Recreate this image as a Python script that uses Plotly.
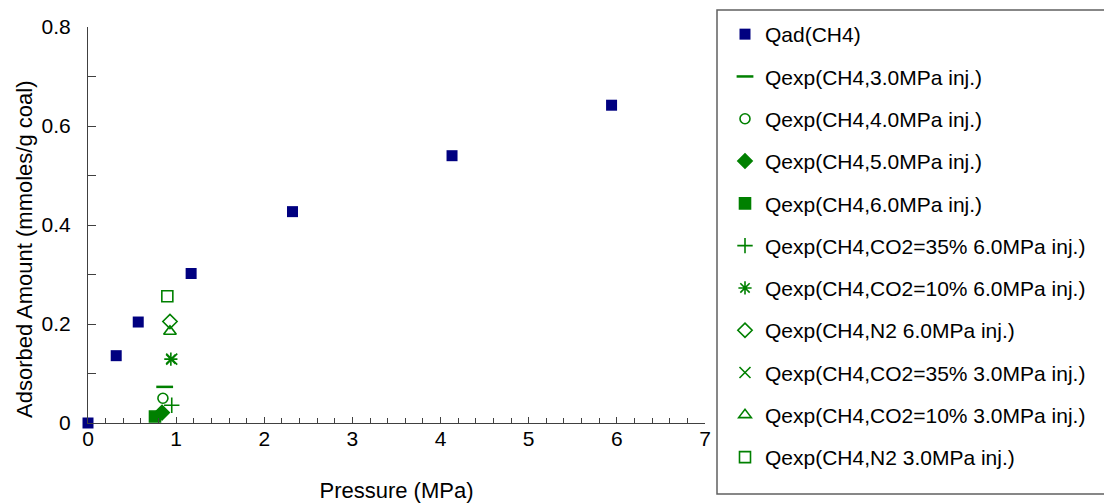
import plotly.graph_objects as go

# Data
qad_x = [0.0, 0.32, 0.57, 1.17, 2.32, 4.13, 5.94]
qad_y = [0.0, 0.136, 0.204, 0.302, 0.427, 0.540, 0.642]

series_names = [
    "Qexp(CH4,3.0MPa inj.)",
    "Qexp(CH4,4.0MPa inj.)",
    "Qexp(CH4,5.0MPa inj.)",
    "Qexp(CH4,6.0MPa inj.)",
    "Qexp(CH4,CO2=35% 6.0MPa inj.)",
    "Qexp(CH4,CO2=10% 6.0MPa inj.)",
    "Qexp(CH4,N2 6.0MPa inj.)",
    "Qexp(CH4,CO2=35% 3.0MPa inj.)",
    "Qexp(CH4,CO2=10% 3.0MPa inj.)",
    "Qexp(CH4,N2 3.0MPa inj.)",
]
series_x = [0.87, 0.85, 0.84, 0.76, 0.95, 0.94, 0.93, 0.95, 0.93, 0.90]
series_y = [0.073, 0.050, 0.021, 0.013, 0.036, 0.129, 0.205, 0.129, 0.185, 0.256]
series_symbols = ["line-ew-open", "circle-open", "diamond", "square", "cross-thin-open",
                  "asterisk-open", "diamond-open", "x-thin-open", "triangle-up-open", "square-open"]
series_sizes = [12, 10, 11, 11, 11, 11, 11, 11, 11, 11]

NAVY = "#000080"
GREEN = "#008000"
FONT = "Liberation Sans"

fig = go.Figure()
fig.add_trace(go.Scatter(
    x=qad_x, y=qad_y, mode="markers", name="Qad(CH4)", legendgroup="g0",
    marker=dict(symbol="square", size=11, color=NAVY),
    cliponaxis=False,
))
for i, (nm, xv, yv, sym, sz) in enumerate(zip(series_names, series_x, series_y, series_symbols, series_sizes)):
    fig.add_trace(go.Scatter(
        x=[xv], y=[yv], mode="markers", name=nm, legendgroup=f"g{i+1}",
        marker=dict(symbol=sym, size=sz, color=GREEN,
                    line=dict(color=GREEN, width=2.5 if sym == "line-ew-open" else 1.6)),
        cliponaxis=False,
    ))

W, H = 1104, 503
L, R, T, B = 88, 399, 27, 80
PW, PH = W - L - R, H - T - B

fig.update_layout(
    width=W, height=H,
    margin=dict(l=L, r=R, t=T, b=B),
    paper_bgcolor="white", plot_bgcolor="white",
    font=dict(family=FONT, size=21, color="black"),
    showlegend=True,
    legend=dict(
        x=(725 - L) / PW, y=1 + (T - 14) / PH,
        xanchor="left", yanchor="top",
        font=dict(family=FONT, size=21, color="black"),
        tracegroupgap=12, traceorder="grouped",
        bgcolor="rgba(0,0,0,0)", borderwidth=0,
        itemwidth=30, maxheight=1.0,
    ),
    xaxis=dict(
        range=[0, 7], tickmode="linear", tick0=0, dtick=1,
        showgrid=False, zeroline=False, automargin=False,
        showline=True, linecolor="#404040", linewidth=1,
        ticks="inside", ticklen=6, tickcolor="#404040",
        minor=dict(dtick=0.2, ticks="inside", ticklen=5, tickcolor="#404040", showgrid=False),
        tickfont=dict(family=FONT, size=21),
        ticklabelstandoff=-3,
        title=dict(text="Pressure (MPa)", font=dict(family=FONT, size=22), standoff=33),
    ),
    yaxis=dict(
        range=[0, 0.8], tickmode="array", tickvals=[0, 0.2, 0.4, 0.6, 0.8],
        ticktext=["0", "0.2", "0.4", "0.6", "0.8"],
        showgrid=False, zeroline=False, automargin=False,
        showline=True, linecolor="#404040", linewidth=1,
        ticks="inside", ticklen=8, tickcolor="#404040",
        minor=dict(dtick=0.1, ticks="inside", ticklen=8, tickcolor="#404040", showgrid=False),
        tickfont=dict(family=FONT, size=21),
        ticklabelstandoff=12,
    ),
)

# y-axis title (offset downward as in the original)
fig.add_annotation(text="Adsorbed Amount (mmoles/g coal)", textangle=-90,
                   xref="paper", yref="paper",
                   x=(25 - L) / PW, y=1 - (249 - T) / PH,
                   xanchor="center", yanchor="middle", showarrow=False,
                   font=dict(family=FONT, size=22, color="black"))

# legend frame
fig.add_shape(type="rect", xref="paper", yref="paper",
              x0=(717 - L) / PW, x1=(1110 - L) / PW,
              y0=1 - (494 - T) / PH, y1=1 + (T - 10) / PH,
              line=dict(color="#606060", width=1.5), fillcolor="rgba(0,0,0,0)", layer="below")

fig.write_html("out.html")
